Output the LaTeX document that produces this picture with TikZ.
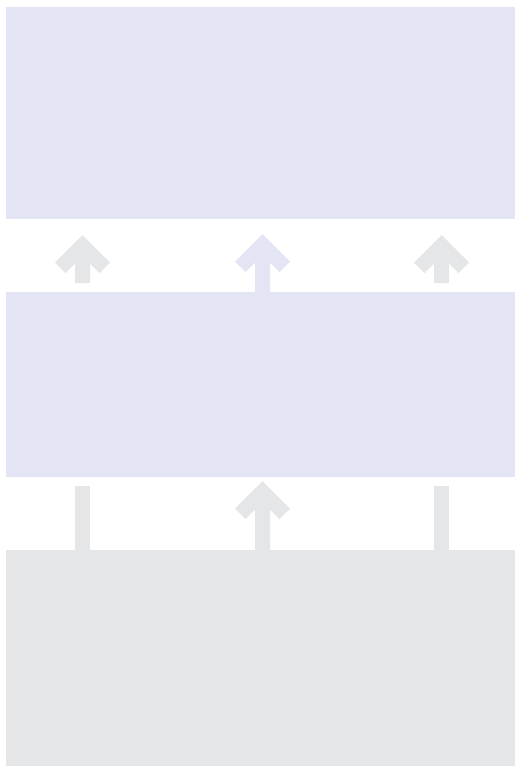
\documentclass[tikz,border=0pt]{standalone}
\definecolor{lav}{RGB}{227,229,244}
\definecolor{lgray}{RGB}{229,230,232}
\tikzset{
  panel/.style={draw=none,inner sep=0pt,outer sep=0pt,anchor=north west,minimum width=509pt},
  pics/uparr/.style n args={2}{code={
    \fill[#1] (0,0) -- (27.5,27.5) -- (17,38) -- (7.5,28.5) -- (7.5,#2) -- (-7.5,#2)
      -- (-7.5,28.5) -- (-17,38) -- (-27.5,27.5) -- cycle;
  }},
}
\begin{document}
\begin{tikzpicture}[x=1pt,y=-1pt]
\useasboundingbox (0,0) rectangle (521,774);
\node[panel,fill=lav,minimum height=212pt] (top) at (6,7) {};
\node[panel,fill=lav,minimum height=185pt] (mid) at (6,292) {};
\node[panel,fill=lgray,minimum height=216pt] (bot) at (6,550) {};
% arrows between middle and top
\pic at (82.5,235) {uparr={lgray}{48}};
\pic at (262.5,234) {uparr={lav}{58}};
\pic at (441.5,235) {uparr={lgray}{48}};
% between bottom and middle
\fill[lgray] (75,486) rectangle (90,550);
\pic at (262.5,481) {uparr={lgray}{69}};
\fill[lgray] (434,486) rectangle (449,550);
\end{tikzpicture}
\end{document}
